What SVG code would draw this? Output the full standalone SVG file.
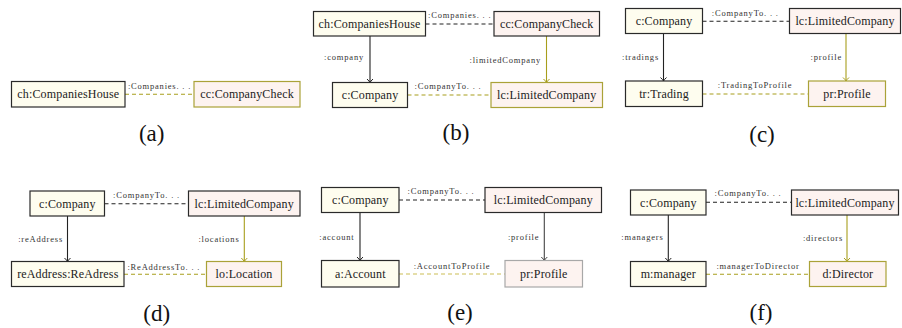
<svg xmlns="http://www.w3.org/2000/svg" width="902" height="328" viewBox="0 0 902 328">
  <style>
    text { font-family: "Liberation Serif", "Times New Roman", serif; fill: #222; }
    .obj { stroke-width: 1.2; }
    .src { fill: #fefdef; stroke: #2a2a2a; }
    .tgt { fill: #fdf3f0; stroke: #2a2a2a; }
    .tgt.ol { stroke: #aaa238; }
    .tgt.gr { stroke: #a8a8a8; }
    .name { font-size: 12px; text-anchor: middle; letter-spacing: 0.15px; }
    .lbl { font-size: 8.5px; letter-spacing: 0.8px; fill: #333; }
    .mid { text-anchor: middle; }
    .end { text-anchor: end; }
    .cap { font-size: 23px; text-anchor: middle; fill: #111; }
    .corr { fill: none; stroke-width: 1.1; stroke-dasharray: 4 3; }
    .corr.k { stroke: #222; }
    .corr.o { stroke: #a89e1c; }
    .corr.l { stroke: #cbbd55; }
    .ref { fill: none; stroke-width: 1.1; }
    .ref.k { stroke: #222; marker-end: url(#headK); }
    .ref.o { stroke: #a89e1c; marker-end: url(#headO); }
    .ref.g { stroke: #444; marker-end: url(#headG); }
  </style>
  <defs>
    <marker id="headK" markerUnits="userSpaceOnUse" viewBox="-5 -4 6 8" markerWidth="6" markerHeight="8" refX="0" refY="0" orient="auto">
      <path d="M-3.5,-3 Q-1.2,-0.6 0,0 Q-1.2,0.6 -3.5,3" fill="none" stroke="#222" stroke-width="1"/>
    </marker>
    <marker id="headO" markerUnits="userSpaceOnUse" viewBox="-5 -4 6 8" markerWidth="6" markerHeight="8" refX="0" refY="0" orient="auto">
      <path d="M-3.5,-3 Q-1.2,-0.6 0,0 Q-1.2,0.6 -3.5,3" fill="none" stroke="#a89e1c" stroke-width="1"/>
    </marker>
    <marker id="headG" markerUnits="userSpaceOnUse" viewBox="-5 -4 6 8" markerWidth="6" markerHeight="8" refX="0" refY="0" orient="auto">
      <path d="M-3.5,-3 Q-1.2,-0.6 0,0 Q-1.2,0.6 -3.5,3" fill="none" stroke="#444" stroke-width="1"/>
    </marker>
  </defs>

  <!-- (a) -->
  <g id="a-connectors">
    <line class="corr o" x1="125" y1="94.3" x2="194" y2="94.3"/>
    <text class="lbl mid" x="159.5" y="89">:Companies. . .</text>
  </g>
  <g id="a-ch">
    <rect class="obj src" x="11.5" y="81.5" width="113.5" height="25.5"/>
    <text class="name" x="68.3" y="98.3">ch:CompaniesHouse</text>
  </g>
  <g id="a-cc">
    <rect class="obj tgt ol" x="194" y="81.5" width="106" height="25.5"/>
    <text class="name" x="247" y="98.3">cc:CompanyCheck</text>
  </g>
  <text class="cap" x="151.7" y="140.5">(a)</text>

  <!-- (b) -->
  <g id="b-connectors">
    <line class="corr k" x1="425.5" y1="24" x2="494" y2="24"/>
    <text class="lbl mid" x="459.7" y="18">:Companies. . .</text>
    <line class="corr o" x1="407.5" y1="95" x2="491" y2="95"/>
    <text class="lbl mid" x="448" y="89">:CompanyTo. . .</text>
    <line class="ref k" x1="370" y1="36" x2="370" y2="82.5"/>
    <text class="lbl end" x="364" y="60">:company</text>
    <line class="ref o" x1="546.5" y1="36" x2="546.5" y2="82.5"/>
    <text class="lbl end" x="541" y="62.5">:limitedCompany</text>
  </g>
  <g id="b-ch">
    <rect class="obj src" x="313.5" y="11.5" width="112" height="24.5"/>
    <text class="name" x="369.5" y="27.8">ch:CompaniesHouse</text>
  </g>
  <g id="b-cc">
    <rect class="obj tgt" x="494" y="11.5" width="105.5" height="24.5"/>
    <text class="name" x="546.7" y="27.8">cc:CompanyCheck</text>
  </g>
  <g id="b-c">
    <rect class="obj src" x="332.5" y="82.5" width="75" height="25"/>
    <text class="name" x="370" y="99">c:Company</text>
  </g>
  <g id="b-lc">
    <rect class="obj tgt ol" x="491" y="82.5" width="111.5" height="25"/>
    <text class="name" x="546.7" y="99">lc:LimitedCompany</text>
  </g>
  <text class="cap" x="456" y="140">(b)</text>

  <!-- (c) -->
  <g id="c-connectors">
    <line class="corr k" x1="702.5" y1="21.3" x2="789.5" y2="21.3"/>
    <text class="lbl mid" x="745.3" y="15.5">:CompanyTo. . .</text>
    <line class="corr o" x1="702.5" y1="94" x2="808.5" y2="94"/>
    <text class="lbl mid" x="755" y="88">:TradingToProfile</text>
    <line class="ref k" x1="663.5" y1="33.5" x2="663.5" y2="81"/>
    <text class="lbl end" x="659" y="60">:tradings</text>
    <line class="ref o" x1="846" y1="33.5" x2="846" y2="81"/>
    <text class="lbl end" x="842" y="60">:profile</text>
  </g>
  <g id="c-c">
    <rect class="obj src" x="625.5" y="8.5" width="77" height="25"/>
    <text class="name" x="664" y="25">c:Company</text>
  </g>
  <g id="c-lc">
    <rect class="obj tgt" x="789.5" y="8.5" width="111" height="25"/>
    <text class="name" x="845" y="25">lc:LimitedCompany</text>
  </g>
  <g id="c-tr">
    <rect class="obj src" x="625.5" y="81" width="77" height="25.5"/>
    <text class="name" x="664" y="98">tr:Trading</text>
  </g>
  <g id="c-pr">
    <rect class="obj tgt ol" x="808.5" y="81" width="77" height="25.5"/>
    <text class="name" x="847" y="98">pr:Profile</text>
  </g>
  <text class="cap" x="762" y="141.5">(c)</text>

  <!-- (d) -->
  <g id="d-connectors">
    <line class="corr k" x1="104.5" y1="203.7" x2="188.5" y2="203.7"/>
    <text class="lbl mid" x="146.5" y="197.5">:CompanyTo. . .</text>
    <line class="corr o" x1="124" y1="274.3" x2="206.5" y2="274.3"/>
    <text class="lbl mid" x="163.8" y="269.5">:ReAddressTo. . .</text>
    <line class="ref k" x1="67.5" y1="216" x2="67.5" y2="261.5"/>
    <text class="lbl end" x="63" y="242">:reAddress</text>
    <line class="ref o" x1="244.3" y1="216" x2="244.3" y2="261.5"/>
    <text class="lbl end" x="239.5" y="242">:locations</text>
  </g>
  <g id="d-c">
    <rect class="obj src" x="30" y="191" width="74.5" height="25"/>
    <text class="name" x="67.3" y="207.5">c:Company</text>
  </g>
  <g id="d-lc">
    <rect class="obj tgt" x="188.5" y="191" width="111.5" height="25"/>
    <text class="name" x="244.2" y="207.5">lc:LimitedCompany</text>
  </g>
  <g id="d-reAddress">
    <rect class="obj src" x="11.5" y="261.5" width="112.5" height="25"/>
    <text class="name" x="67.8" y="278">reAddress:ReAdress</text>
  </g>
  <g id="d-lo">
    <rect class="obj tgt ol" x="206.5" y="261.5" width="75" height="25"/>
    <text class="name" x="244" y="278">lo:Location</text>
  </g>
  <text class="cap" x="156.7" y="321">(d)</text>

  <!-- (e) -->
  <g id="e-connectors">
    <line class="corr k" x1="399" y1="200" x2="485" y2="200"/>
    <text class="lbl mid" x="441" y="194">:CompanyTo. . .</text>
    <line class="corr l" x1="399" y1="274" x2="505" y2="274"/>
    <text class="lbl mid" x="452" y="269">:AccountToProfile</text>
    <line class="ref k" x1="360" y1="212.5" x2="360" y2="260.5"/>
    <text class="lbl end" x="354.5" y="239.5">:account</text>
    <line class="ref g" x1="544.3" y1="212.5" x2="544.3" y2="260.5"/>
    <text class="lbl end" x="539.3" y="239.5">:profile</text>
  </g>
  <g id="e-c">
    <rect class="obj src" x="321.5" y="187.5" width="77.5" height="25"/>
    <text class="name" x="360.3" y="204">c:Company</text>
  </g>
  <g id="e-lc">
    <rect class="obj tgt" x="485" y="187.5" width="116.5" height="25"/>
    <text class="name" x="543.3" y="204">lc:LimitedCompany</text>
  </g>
  <g id="e-a">
    <rect class="obj src" x="321.5" y="260.5" width="77.5" height="26.5"/>
    <text class="name" x="360.3" y="277.8">a:Account</text>
  </g>
  <g id="e-pr">
    <rect class="obj tgt gr" x="505" y="260.5" width="77.5" height="26.5"/>
    <text class="name" x="543.8" y="277.8">pr:Profile</text>
  </g>
  <text class="cap" x="460" y="319.5">(e)</text>

  <!-- (f) -->
  <g id="f-connectors">
    <line class="corr k" x1="706" y1="202.3" x2="791.5" y2="202.3"/>
    <text class="lbl mid" x="748" y="196">:CompanyTo. . .</text>
    <line class="corr o" x1="706" y1="274.3" x2="809.5" y2="274.3"/>
    <text class="lbl mid" x="758" y="268.5">:managerToDirector</text>
    <line class="ref k" x1="668.3" y1="215" x2="668.3" y2="261.5"/>
    <text class="lbl end" x="663.5" y="239.5">:managers</text>
    <line class="ref o" x1="847" y1="215" x2="847" y2="261.5"/>
    <text class="lbl end" x="843" y="241">:directors</text>
  </g>
  <g id="f-c">
    <rect class="obj src" x="630.5" y="190" width="75.5" height="25"/>
    <text class="name" x="668.3" y="206.5">c:Company</text>
  </g>
  <g id="f-lc">
    <rect class="obj tgt" x="791.5" y="190" width="107" height="25"/>
    <text class="name" x="845" y="206.5">lc:LimitedCompany</text>
  </g>
  <g id="f-m">
    <rect class="obj src" x="630.5" y="261.5" width="75.5" height="25"/>
    <text class="name" x="668.3" y="278">m:manager</text>
  </g>
  <g id="f-d">
    <rect class="obj tgt ol" x="809.5" y="261.5" width="76.5" height="25"/>
    <text class="name" x="847.8" y="278">d:Director</text>
  </g>
  <text class="cap" x="761" y="319.5">(f)</text>
</svg>
